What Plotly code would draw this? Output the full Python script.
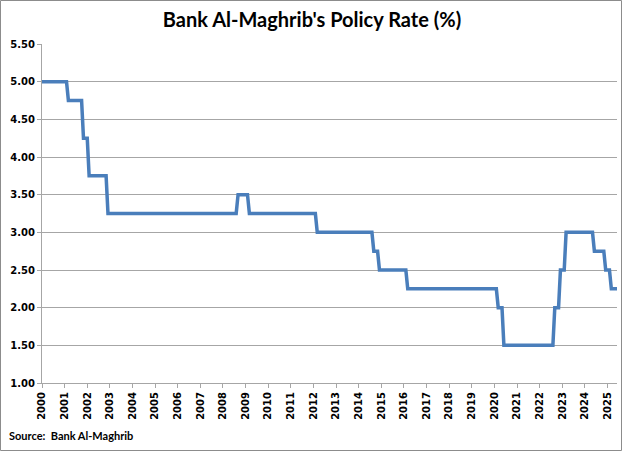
import plotly.graph_objects as go

# Monthly policy rate (%), Jan 2000 .. Jun 2025, one row per year (Jan..Dec)
policy_rate = [
    5.00, 5.00, 5.00, 5.00, 5.00, 5.00, 5.00, 5.00, 5.00, 5.00, 5.00, 5.00,  # 2000
    5.00, 5.00, 4.75, 4.75, 4.75, 4.75, 4.75, 4.75, 4.75, 4.75, 4.25, 4.25,  # 2001
    4.25, 3.75, 3.75, 3.75, 3.75, 3.75, 3.75, 3.75, 3.75, 3.75, 3.75, 3.25,  # 2002
    3.25, 3.25, 3.25, 3.25, 3.25, 3.25, 3.25, 3.25, 3.25, 3.25, 3.25, 3.25,  # 2003
    3.25, 3.25, 3.25, 3.25, 3.25, 3.25, 3.25, 3.25, 3.25, 3.25, 3.25, 3.25,  # 2004
    3.25, 3.25, 3.25, 3.25, 3.25, 3.25, 3.25, 3.25, 3.25, 3.25, 3.25, 3.25,  # 2005
    3.25, 3.25, 3.25, 3.25, 3.25, 3.25, 3.25, 3.25, 3.25, 3.25, 3.25, 3.25,  # 2006
    3.25, 3.25, 3.25, 3.25, 3.25, 3.25, 3.25, 3.25, 3.25, 3.25, 3.25, 3.25,  # 2007
    3.25, 3.25, 3.25, 3.25, 3.25, 3.25, 3.25, 3.25, 3.50, 3.50, 3.50, 3.50,  # 2008
    3.50, 3.50, 3.25, 3.25, 3.25, 3.25, 3.25, 3.25, 3.25, 3.25, 3.25, 3.25,  # 2009
    3.25, 3.25, 3.25, 3.25, 3.25, 3.25, 3.25, 3.25, 3.25, 3.25, 3.25, 3.25,  # 2010
    3.25, 3.25, 3.25, 3.25, 3.25, 3.25, 3.25, 3.25, 3.25, 3.25, 3.25, 3.25,  # 2011
    3.25, 3.25, 3.00, 3.00, 3.00, 3.00, 3.00, 3.00, 3.00, 3.00, 3.00, 3.00,  # 2012
    3.00, 3.00, 3.00, 3.00, 3.00, 3.00, 3.00, 3.00, 3.00, 3.00, 3.00, 3.00,  # 2013
    3.00, 3.00, 3.00, 3.00, 3.00, 3.00, 3.00, 3.00, 2.75, 2.75, 2.75, 2.50,  # 2014
    2.50, 2.50, 2.50, 2.50, 2.50, 2.50, 2.50, 2.50, 2.50, 2.50, 2.50, 2.50,  # 2015
    2.50, 2.50, 2.25, 2.25, 2.25, 2.25, 2.25, 2.25, 2.25, 2.25, 2.25, 2.25,  # 2016
    2.25, 2.25, 2.25, 2.25, 2.25, 2.25, 2.25, 2.25, 2.25, 2.25, 2.25, 2.25,  # 2017
    2.25, 2.25, 2.25, 2.25, 2.25, 2.25, 2.25, 2.25, 2.25, 2.25, 2.25, 2.25,  # 2018
    2.25, 2.25, 2.25, 2.25, 2.25, 2.25, 2.25, 2.25, 2.25, 2.25, 2.25, 2.25,  # 2019
    2.25, 2.25, 2.00, 2.00, 2.00, 1.50, 1.50, 1.50, 1.50, 1.50, 1.50, 1.50,  # 2020
    1.50, 1.50, 1.50, 1.50, 1.50, 1.50, 1.50, 1.50, 1.50, 1.50, 1.50, 1.50,  # 2021
    1.50, 1.50, 1.50, 1.50, 1.50, 1.50, 1.50, 1.50, 2.00, 2.00, 2.00, 2.50,  # 2022
    2.50, 2.50, 3.00, 3.00, 3.00, 3.00, 3.00, 3.00, 3.00, 3.00, 3.00, 3.00,  # 2023
    3.00, 3.00, 3.00, 3.00, 3.00, 2.75, 2.75, 2.75, 2.75, 2.75, 2.75, 2.50,  # 2024
    2.50, 2.50, 2.25, 2.25, 2.25, 2.25,                                      # 2025
]

year_labels = [str(y) for y in range(2000, 2026)]
y_tick_values = [1.0, 1.5, 2.0, 2.5, 3.0, 3.5, 4.0, 4.5, 5.0, 5.5]
y_tick_labels = ["1.00", "1.50", "2.00", "2.50", "3.00", "3.50", "4.00", "4.50", "5.00", "5.50"]

month_index = list(range(len(policy_rate)))
year_tick_positions = [12 * i for i in range(len(year_labels))]

W, H = 624, 453
L, R, T, B = 42, 7, 44, 70
pw, ph = W - L - R, H - T - B

def px_to_paper_x(px):
    return (px - L) / pw

def px_to_paper_y(py):
    return (H - B - py) / ph

fig = go.Figure()
fig.add_trace(go.Scatter(
    x=month_index, y=policy_rate, mode="lines",
    line=dict(color="#4a7ebb", width=3.5),
    hoverinfo="x+y",
))

grid_color = "#a6a6a6"
tick_font = dict(family="DejaVu Sans", size=10, color="#000000", weight="bold")

fig.update_layout(
    width=W, height=H,
    margin=dict(l=L, r=R, t=T, b=B, pad=0, autoexpand=False),
    paper_bgcolor="white", plot_bgcolor="white",
    showlegend=False,
    title=dict(
        text="Bank Al-Maghrib's Policy Rate (%)",
        font=dict(family="Lato", size=20, color="#000000", weight="bold"),
        x=0.5, xanchor="center", xref="container",
        y=1 - 20 / H, yanchor="middle", yref="container",
    ),
    xaxis=dict(
        range=[0, len(policy_rate) - 1],
        tickmode="array", tickvals=year_tick_positions, ticktext=year_labels,
        tickangle=-90, tickfont=tick_font,
        ticks="outside", ticklen=4, tickcolor=grid_color, tickwidth=1,
        showline=True, linecolor=grid_color, linewidth=1,
        showgrid=False, zeroline=False, fixedrange=True, automargin=False,
    ),
    yaxis=dict(
        range=[1.0, 5.5],
        tickmode="array", tickvals=y_tick_values, ticktext=y_tick_labels,
        tickfont=tick_font,
        ticks="outside", ticklen=4, tickcolor=grid_color, tickwidth=1,
        showline=True, linecolor=grid_color, linewidth=1,
        showgrid=True, gridcolor=grid_color, gridwidth=1,
        zeroline=False, fixedrange=True, automargin=False,
    ),
    annotations=[dict(
        text="Source:  Bank Al-Maghrib",
        xref="paper", yref="paper",
        x=px_to_paper_x(7), y=px_to_paper_y(435),
        xanchor="left", yanchor="middle", showarrow=False,
        font=dict(family="Lato", size=11, color="#000000", weight="bold"),
    )],
    shapes=[dict(
        type="rect", xref="paper", yref="paper",
        x0=px_to_paper_x(0.5), x1=px_to_paper_x(621.5),
        y0=px_to_paper_y(450.5), y1=px_to_paper_y(0.5),
        line=dict(color="#8c8c8c", width=1), fillcolor="rgba(0,0,0,0)",
        layer="below",
    )],
)

fig.write_html(
    "out.html",
    config={"displayModeBar": False},
    post_script="document.body.style.margin='0';document.body.style.padding='0';",
)
